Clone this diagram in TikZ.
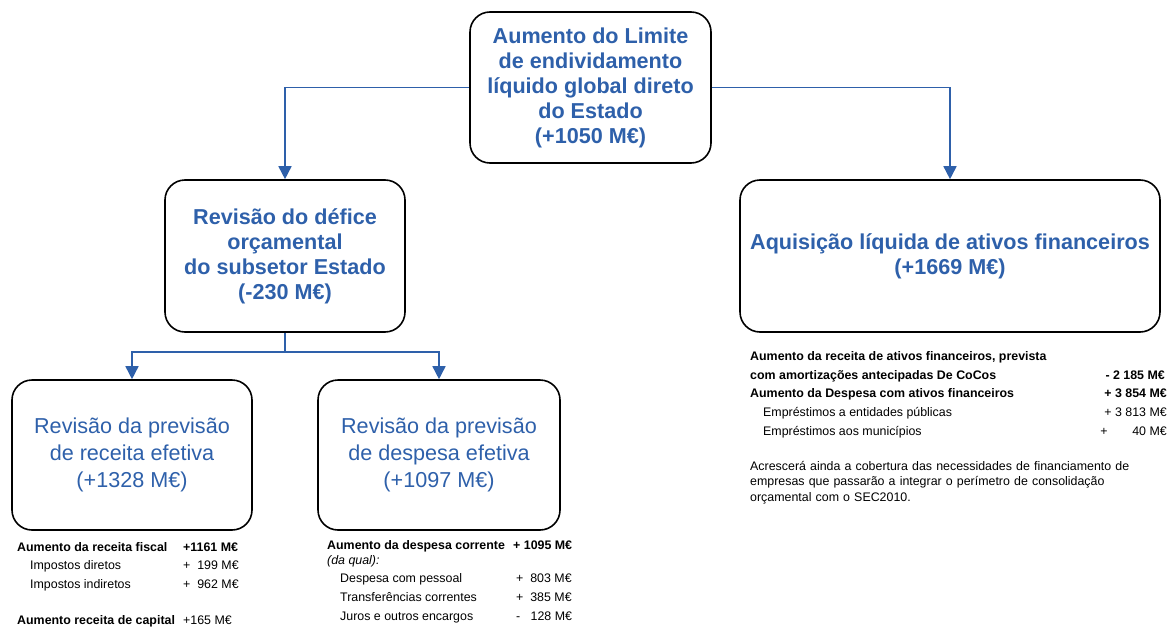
\documentclass[tikz,border=0pt]{standalone}
\usepackage{fontspec}
\setmainfont{Liberation Sans}
\usepackage{tikz}
\usetikzlibrary{positioning, arrows.meta}
\definecolor{azul}{RGB}{46,96,170}
\tikzset{
caixa/.style={draw=black, line width=1.6pt, rounded corners=20pt, align=center, text=azul, inner sep=2pt},
titulo/.style={caixa, font=\fontsize{21.6}{25}\selectfont\bfseries},
sub/.style={caixa, font=\fontsize{21.6}{27}\selectfont},
liga/.style={draw=azul, line width=1.6pt, -{Triangle[width=13pt,length=13pt]}},
tab/.style={anchor=base west, inner sep=0pt, font=\fontsize{12.4}{15}\selectfont},
tabd/.style={anchor=base east, inner sep=0pt, font=\fontsize{12.4}{15}\selectfont},
}

\begin{document}
\begin{tikzpicture}[x=1pt, y=-1pt]
\useasboundingbox (0,0) rectangle (1169,626);
% caixas
\node[titulo, minimum width=241pt, minimum height=151pt] (limite) at (590.5,87.5)
 {Aumento do Limite\\de endividamento\\líquido global direto\\do Estado\\(+1050 M€)};
\node[titulo, minimum width=240pt, minimum height=152pt] (defice) at (285,256)
 {Revisão do défice\\orçamental\\do subsetor Estado\\(-230 M€)};
\node[titulo, minimum width=420pt, minimum height=152pt] (ativos) at (950,256)
 {Aquisição líquida de ativos financeiros\\(+1669 M€)};
\node[sub, minimum width=240pt, minimum height=150pt] (receita) at (132,455)
 {Revisão da previsão\\de receita efetiva\\(+1328 M€)};
\node[sub, minimum width=242pt, minimum height=150pt] (despesa) at (439,455)
 {Revisão da previsão\\de despesa efetiva\\(+1097 M€)};
% ligacoes
\draw[liga] (limite.west) -| (defice.north);
\draw[liga] (limite.east) -| (ativos.north);
\coordinate (ramo) at ([yshift=-19pt]defice.south);
\draw[liga] (defice.south) -- (ramo) -| (receita.north);
\draw[liga] (ramo) -| (despesa.north);
% receita
\node[tab] (rf) at (17,551) {\bfseries Aumento da receita fiscal};
\node[tab] (rfv) at (183,551) {\bfseries +1161 M€};
\node[tab] (id) at (30,569) {Impostos diretos};
\node[tab] (idv) at (183,569) {+\ \ 199 M€};
\node[tab] (ii) at (30,588) {Impostos indiretos};
\node[tab] (iiv) at (183,588) {+\ \ 962 M€};
\node[tab] (rc) at (17,624) {\bfseries Aumento receita de capital};
\node[tab] (rcv) at (183,624) {+165 M€};
% despesa
\node[tab] (dc) at (327,549) {\bfseries Aumento da despesa corrente};
\node[tab] (dcv) at (513,549) {\bfseries + 1095 M€};
\node[tab] (dq) at (327,564) {\itshape (da qual):};
\node[tab] (dp) at (340,582) {Despesa com pessoal};
\node[tab] (dpv) at (516,582) {+\ \ 803 M€};
\node[tab] (tc) at (340,601) {Transferências correntes};
\node[tab] (tcv) at (516,601) {+\ \ 385 M€};
\node[tab] (je) at (340,620) {Juros e outros encargos};
\node[tab] (jev) at (516,620) {-\ \ \ 128 M€};
% ativos financeiros
\node[tab] (ra) at (750,360) {\bfseries Aumento da receita de ativos financeiros, prevista};
\node[tab] (am) at (750,379) {\bfseries com amortizações antecipadas De CoCos};
\node[tabd] (amv) at (1165,379) {\bfseries - 2 185 M€};
\node[tab] (da) at (750,397) {\bfseries Aumento da Despesa com ativos financeiros};
\node[tabd] (dav) at (1167,397) {\bfseries + 3 854 M€};
\node[tab] (ep) at (763,416) {Empréstimos a entidades públicas};
\node[tabd] (epv) at (1167,416) {+ 3 813 M€};
\node[tab] (em) at (763,435) {Empréstimos aos municípios};
\node[tabd] (emv) at (1167,435) {+\qquad 40 M€};
\node[anchor=north west, inner sep=0pt, text width=420pt, align=left, font=\fontsize{12.4}{15.5}\selectfont] (nota) at (750,461)
 {Acrescerá ainda a cobertura das necessidades de financiamento de\\empresas que passarão a integrar o perímetro de consolidação\\orçamental com o SEC2010.};
\end{tikzpicture}
\end{document}
